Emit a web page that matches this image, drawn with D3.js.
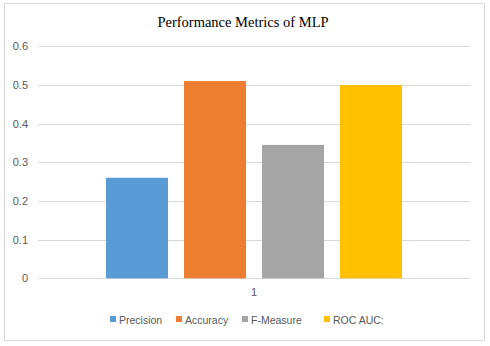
<!DOCTYPE html>
<html><head><meta charset="utf-8">
<script src="https://cdn.jsdelivr.net/npm/d3@7"></script>
<style>body{margin:0;background:#fff}svg{display:block}</style>
</head><body>
<script>
const categories = ["1"];
const seriesNames = ["Precision", "Accuracy", "F-Measure", "ROC AUC:"];
const seriesValues = [0.26, 0.51, 0.345, 0.5];
const seriesColors = ["#5B9BD5", "#ED7D31", "#A5A5A5", "#FFC000"];
const yTicks = [0, 0.1, 0.2, 0.3, 0.4, 0.5, 0.6];
const chartTitle = "Performance Metrics of MLP";

(function () {
const W = 490, H = 346;
const svg = d3.select("body").append("svg").attr("width", W).attr("height", H);
svg.append("rect").attr("x", 4.5).attr("y", 3.5).attr("width", 480).attr("height", 337)
  .attr("fill", "#fff").attr("stroke", "#d9d9d9").attr("stroke-width", 1);

const pLeft = 38, pRight = 470, pTop = 46.3, pBottom = 278.3;
const y = d3.scaleLinear().domain([0, 0.6]).range([pBottom, pTop]);
const x0 = d3.scaleBand().domain(categories).range([pLeft, pRight]).paddingInner(0).paddingOuter(0.2297);
const x1 = d3.scaleBand().domain(seriesNames).range([0, x0.bandwidth()]).paddingInner(0.205).paddingOuter(0);
const color = d3.scaleOrdinal().domain(seriesNames).range(seriesColors);

// gridlines
svg.append("g").selectAll("line").data(yTicks).join("line")
  .attr("x1", pLeft).attr("x2", pRight)
  .attr("y1", d => Math.round(y(d)) + 0.5).attr("y2", d => Math.round(y(d)) + 0.5)
  .attr("stroke", "#d9d9d9").attr("stroke-width", 1);

// y axis labels
const yAxis = d3.axisLeft(y).tickValues(yTicks).tickFormat(d => d === 0 ? "0" : d3.format(".1f")(d)).tickSize(0).tickPadding(10);
const gy = svg.append("g").attr("transform", `translate(${pLeft},0)`).call(yAxis);
gy.select(".domain").remove();
gy.selectAll("text").attr("fill", "#595959").style("font-family", "'Liberation Sans', Arial, sans-serif").style("font-size", "11px");

// bars
const data = seriesNames.map((s, i) => ({ cat: categories[0], key: s, value: seriesValues[i] }));
svg.append("g").selectAll("rect").data(data).join("rect")
  .attr("x", d => x0(d.cat) + x1(d.key))
  .attr("width", x1.bandwidth())
  .attr("y", d => y(d.value))
  .attr("height", d => y(0) - y(d.value))
  .attr("fill", d => color(d.key));

// x axis
const xAxis = d3.axisBottom(x0).tickSize(0).tickPadding(10);
const gx = svg.append("g").attr("transform", `translate(0,${pBottom})`).call(xAxis);
gx.select(".domain").remove();
gx.selectAll("text").attr("fill", "#595959").style("font-family", "'Liberation Sans', Arial, sans-serif").style("font-size", "11px");

// title
svg.append("text").attr("x", 243).attr("y", 27).attr("text-anchor", "middle")
  .style("font-family", "'Liberation Serif', 'Times New Roman', serif").style("font-size", "14.5px")
  .attr("fill", "#000").text(chartTitle);

// legend
const legendX = [110, 176, 242, 324];
const lg = svg.append("g").selectAll("g").data(seriesNames).join("g")
  .attr("transform", (d, i) => `translate(${legendX[i]},320)`);
lg.append("rect").attr("x", 0).attr("y", -4).attr("width", 6).attr("height", 6).attr("fill", d => color(d));
lg.append("text").attr("x", 9).attr("y", 0).attr("dy", "0.35em")
  .attr("fill", "#595959").style("font-family", "'Liberation Sans', Arial, sans-serif").style("font-size", "10.5px")
  .text(d => d);
})();
</script>
</body></html>
